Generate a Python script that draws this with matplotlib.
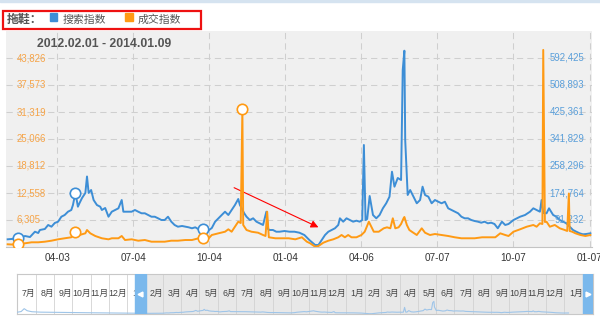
"""Taobao index for 拖鞋: search index vs. deal index, 2012-02-01 .. 2014-01-09."""

import matplotlib

matplotlib.use("Agg")

import matplotlib.dates as mdates
import matplotlib.pyplot as plt
import numpy as np
import pandas as pd
from matplotlib.patches import Rectangle
from matplotlib.transforms import blended_transform_factory

plt.rcParams["font.family"] = ["Liberation Sans", "Noto Sans CJK SC", "DejaVu Sans"]

START = pd.Timestamp("2012-02-01")
END = pd.Timestamp("2014-01-10")

# 搜索指数 (blue, right-hand scale); days counted from 2012-02-01
SEARCH_DAY = [
    2, 7, 15, 23, 29, 35, 39, 41, 47, 51, 55, 59, 63, 67, 71, 75, 79, 81, 84, 87,
    89, 92, 96, 98, 100, 103, 106, 110, 114, 116, 120, 124, 128, 132, 136, 140, 142, 146, 152, 156,
    160, 164, 168, 172, 176, 180, 184, 188, 192, 196, 200, 204, 208, 213, 217, 221, 225, 229, 233, 238,
    243, 249, 253, 257, 261, 265, 269, 273, 277, 281, 283, 285, 288, 291, 295, 299, 303, 307, 311, 315,
    317, 319, 323, 327, 331, 337, 343, 349, 355, 361, 367, 374, 378, 382, 386, 390, 394, 398, 402, 404,
    408, 412, 416, 420, 424, 428, 431, 433, 435, 437, 440, 444, 448, 452, 456, 460, 464, 467, 470, 474,
    478, 480, 482, 483, 486, 489, 493, 497, 501, 504, 507, 511, 515, 519, 523, 527, 531, 535, 539, 543,
    547, 551, 555, 559, 563, 567, 571, 575, 579, 583, 587, 591, 595, 600, 604, 608, 614, 622, 628, 634,
    638, 642, 646, 648, 650, 654, 657, 662, 666, 670, 674, 678, 682, 686, 690, 694, 698, 702, 707,
]
SEARCH_VAL = [
    31500, 32500, 35500, 41700, 38600, 55000, 51000, 60300, 63400, 75800,
    70500, 82000, 86000, 101400, 106700, 116900, 122200, 137600, 175700, 132400,
    143800, 159300, 174800, 225800, 174800, 184000, 153100, 137600, 132400, 122200,
    128400, 101400, 116900, 122200, 127400, 153100, 116900, 116900, 116900, 122200,
    116900, 112000, 112000, 106700, 101400, 101400, 96500, 91200, 91200, 101400,
    86000, 75800, 70500, 72700, 70500, 68600, 65600, 68600, 62500, 63400,
    55000, 66500, 86000, 96500, 106700, 116900, 106700, 122200, 137600, 156200,
    137600, 128400, 112900, 101400, 91200, 96500, 86000, 81000, 75800, 116900,
    63400, 60300, 60300, 55000, 55000, 57200, 55000, 55000, 51900, 44800,
    29400, 13900, 13900, 29400, 44800, 55000, 60300, 65600, 75800, 96500,
    86000, 96500, 91200, 86000, 89100, 86000, 91200, 323300, 91200, 94300,
    165500, 106700, 96500, 106700, 127400, 142900, 163300, 240700, 194300, 221200,
    215000, 555300, 615000, 338700, 168600, 184000, 163300, 142900, 153100, 194300,
    168600, 163300, 142900, 153100, 147800, 142900, 147800, 127400, 122200, 116900,
    112000, 101400, 96500, 96500, 91200, 88100, 86000, 82900, 86000, 81000,
    82900, 78900, 65600, 86000, 75800, 78900, 91200, 101400, 106700, 116900,
    127400, 122200, 116900, 153100, 112900, 112000, 127400, 106700, 101400, 91200,
    86000, 81000, 70500, 60300, 55000, 50100, 47000, 47900, 50100,
]

# 成交指数 (orange, left-hand scale)
DEAL_DAY = [
    2, 7, 15, 23, 31, 39, 47, 55, 63, 71, 79, 84, 89, 96, 98, 102, 108, 116, 124, 128,
    136, 140, 144, 152, 160, 168, 176, 184, 192, 200, 208, 217, 225, 233, 238, 245, 249, 257, 265, 269,
    273, 277, 281, 284, 286, 287, 291, 297, 305, 311, 314, 316, 318, 326, 334, 342, 350, 358, 364, 368,
    374, 378, 384, 390, 396, 402, 406, 410, 414, 418, 424, 430, 434, 439, 445, 451, 457, 461, 465, 468,
    471, 475, 478, 481, 482, 485, 488, 491, 497, 503, 507, 513, 519, 527, 535, 543, 551, 559, 567, 576,
    584, 592, 598, 604, 608, 614, 622, 630, 638, 642, 646, 649, 650, 652, 654, 658, 664, 670, 676, 679,
    681, 682, 685, 689, 695, 701, 707,
]
DEAL_VAL = [
    680, 630, 750, 910, 1140, 1140, 1280, 1510, 1830, 2070, 2300, 3590, 2830, 3220, 3990, 3220, 2600, 2070, 1830, 2070,
    2070, 2600, 1670, 1830, 1510, 1670, 1280, 1280, 1280, 1510, 1510, 1670, 1670, 2070, 2070, 2020, 2830, 3220, 3590, 4150,
    3590, 4750, 5910, 5610, 32000, 5150, 3990, 3590, 3360, 2830, 2600, 8230, 2300, 2070, 2070, 2070, 1830, 2300, 1280, 910,
    120, 280, 1050, 1510, 1830, 2300, 2830, 2300, 2830, 2300, 2300, 2830, 3590, 5910, 3590, 3590, 4380, 4610, 4380, 6700,
    4380, 4610, 5380, 6700, 7000, 5150, 3990, 3590, 2830, 4380, 3360, 2830, 3060, 2830, 2600, 2300, 2070, 2070, 2070, 2300,
    2300, 2300, 3220, 2830, 2600, 3590, 4150, 4750, 5150, 4750, 5540, 5380, 45700, 5840, 5910, 4750, 5150, 4380, 3990, 3760,
    12440, 3760, 3590, 3220, 2830, 2600, 2830,
]

# navigator: search index before the selected range (days before 2012-02-01)
NAV_PRE_DAY = [-214, -208, -203, -198, -190, -175, -150, -120, -90, -60, -30, -10]
NAV_PRE_VAL = [90000, 120000, 260000, 160000, 110000, 90000, 80000, 70000, 60000, 50000, 40000, 32000]

MARK_DAYS = [15, 84, 238, 286]

LEFT_TICKS = [6305, 12558, 18812, 25066, 31319, 37573, 43826]
RIGHT_TICKS = [91232, 174764, 258296, 341829, 425361, 508893, 592425]
LEFT_LIM = (51, 50080)
RIGHT_LIM = (7700, 675956)
X_TICKS = ["2012-04-03", "2012-07-04", "2012-10-04", "2013-01-04",
           "2013-04-06", "2013-07-07", "2013-10-07", "2014-01-07"]

BLUE = "#3d8ed6"
ORANGE = "#ff9a14"
GRID = "#cfcfcf"


def days_to_dates(days):
    return START + pd.to_timedelta(np.asarray(days), unit="D")


def main() -> None:
    fig = plt.figure(figsize=(6.0, 3.21), dpi=100)
    fig.patch.set_facecolor("white")

    # thin page strip at the very top
    fig.patches.append(Rectangle((0, 1 - 2 / 321), 1, 2 / 321, transform=fig.transFigure,
                                 color="#d5e3f0", zorder=0))

    ax = fig.add_axes([6 / 600, 74 / 321, 586 / 600, 216 / 321])
    ax.set_facecolor("#f0f0f0")
    ax2 = ax.twinx()

    s_day = np.array(SEARCH_DAY)
    s_val = np.array(SEARCH_VAL)
    d_day = np.array(DEAL_DAY)
    d_val = np.array(DEAL_VAL)

    ax.plot(days_to_dates(s_day), s_val, color=BLUE, lw=1.4, solid_joinstyle="round")
    ax2.plot(days_to_dates(d_day), d_val, color=ORANGE, lw=1.4, solid_joinstyle="round")

    m = np.isin(s_day, MARK_DAYS[:3])
    ax.plot(days_to_dates(s_day[m]), s_val[m], "o", ms=7.5, mfc="white", mec=BLUE, mew=1.2, zorder=5)
    m = np.isin(d_day, MARK_DAYS)
    ax2.plot(days_to_dates(d_day[m]), d_val[m], "o", ms=7.5, mfc="white", mec=ORANGE, mew=1.2, zorder=5)

    ax.set_xlim(START, END)
    ax.set_ylim(RIGHT_LIM)
    ax2.set_ylim(LEFT_LIM)
    ax.set_xticks(pd.to_datetime(X_TICKS))
    ax.xaxis.set_major_formatter(mdates.DateFormatter("%m-%d"))
    ax.set_yticks(RIGHT_TICKS)
    ax2.set_yticks([])
    ax.grid(True, color=GRID, linestyle=(0, (6, 4)), linewidth=0.75)
    ax.set_axisbelow(True)
    ax.tick_params(axis="y", left=False, right=False, labelleft=False, labelright=False)
    ax.tick_params(axis="x", length=0, pad=4, labelsize=7.2, labelcolor="#333333")
    for a in (ax, ax2):
        for side in ("top", "left", "right"):
            a.spines[side].set_visible(False)
    ax2.spines["bottom"].set_visible(False)
    ax.spines["bottom"].set_color("#c4c4c4")
    ax.spines["bottom"].set_linewidth(0.8)

    tl = blended_transform_factory(ax2.transAxes, ax2.transData)
    for v in LEFT_TICKS:
        ax2.text(0.0175, v, f"{v:,}", transform=tl, ha="left", va="center",
                 color="#f6a448", fontsize=6.9)
    tr = blended_transform_factory(ax.transAxes, ax.transData)
    for v in RIGHT_TICKS:
        ax.text(0.9865, v, f"{v:,}", transform=tr, ha="right", va="center",
                color="#5a9fda", fontsize=6.9)

    ax.annotate("", xy=(START + pd.Timedelta(days=378), 68650),
                xytext=(START + pd.Timedelta(days=276), 191160),
                arrowprops=dict(arrowstyle="-|>", color="red", lw=0.8,
                                mutation_scale=11, shrinkA=0, shrinkB=0))

    fig.text(37 / 600, 1 - 44 / 321, "2012.02.01 - 2014.01.09", fontsize=8.8,
             fontweight="bold", color="#555555", va="center")

    # legend header
    fig.text(7 / 600, 1 - 19.5 / 321, "拖鞋：", fontsize=8.6, fontweight="bold",
             color="#555555", va="center")
    fig.patches.append(Rectangle((49.5 / 600, 1 - 20.5 / 321), 7.5 / 600, 7.5 / 321,
                                 transform=fig.transFigure, color=BLUE))
    fig.text(62.5 / 600, 1 - 19.5 / 321, "搜索指数", fontsize=7.8, color="#555555", va="center")
    fig.patches.append(Rectangle((125 / 600, 1 - 20.5 / 321), 7.5 / 600, 7.5 / 321,
                                 transform=fig.transFigure, color=ORANGE))
    fig.text(138 / 600, 1 - 19.5 / 321, "成交指数", fontsize=7.8, color="#555555", va="center")
    fig.patches.append(Rectangle((3 / 600, 1 - 28.5 / 321), 198 / 600, 17.5 / 321,
                                 transform=fig.transFigure, fill=False, ec="#ee1111", lw=1.6))

    # navigator strip
    nav = fig.add_axes([17 / 600, 7 / 321, 576 / 600, 40 / 321])
    nav_start = pd.Timestamp("2011-07-01")
    nav_end = pd.Timestamp("2014-02-18")
    sel_end = pd.Timestamp("2014-02-01")
    nav.set_xlim(nav_start, nav_end)
    nav.set_ylim(0, 1.95e6)
    nav.set_facecolor("white")
    nav.axvspan(START, sel_end, color="#e8e8e8", zorder=0)
    months = pd.date_range(nav_start, sel_end, freq="MS")
    tn = blended_transform_factory(nav.transData, nav.transAxes)
    for m0 in months:
        nav.axvline(m0, color="#d2d2d2", lw=0.6, zorder=1)
    for m0, m1 in zip(months[:-1], months[1:]):
        nav.text(m1, 0.52, f"{m0.month}月", transform=tn, ha="right", va="center",
                 fontsize=6.3, color="#444444", zorder=2)
    nav_days = np.r_[NAV_PRE_DAY, SEARCH_DAY]
    nav_vals = np.r_[NAV_PRE_VAL, SEARCH_VAL]
    nav.plot(days_to_dates(nav_days), nav_vals, color="#9fc5e8", lw=0.8, zorder=3)
    handle = "#7ab8ec"
    left_h = (pd.Timestamp("2012-01-14"), START)
    right_h = (sel_end, nav_end)
    nav.axvspan(*left_h, color=handle, zorder=4)
    nav.axvspan(*right_h, color=handle, zorder=4)
    nav.plot(left_h[0] + (left_h[1] - left_h[0]) / 2, 0.5, "<", color="white", ms=3.5,
             transform=tn, zorder=5)
    nav.plot(right_h[0] + (right_h[1] - right_h[0]) / 2, 0.5, ">", color="white", ms=3.5,
             transform=tn, zorder=5)
    nav.set_xticks([])
    nav.set_yticks([])
    for s in nav.spines.values():
        s.set_color("#c8c8c8")
        s.set_linewidth(0.8)

    fig.savefig("out.png", dpi=100)
    plt.close(fig)


if __name__ == "__main__":
    main()
